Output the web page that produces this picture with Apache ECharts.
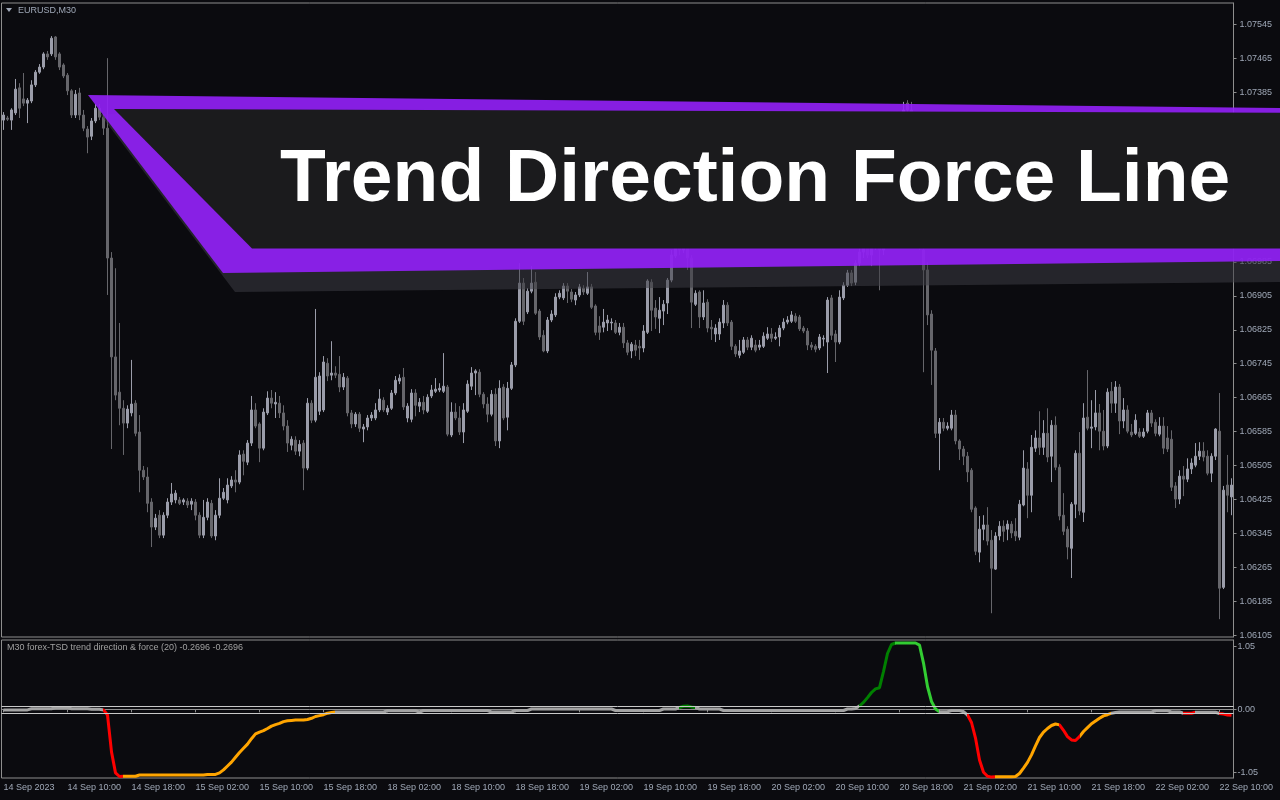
<!DOCTYPE html>
<html><head><meta charset="utf-8">
<script src="https://cdn.jsdelivr.net/npm/echarts@6/dist/echarts.min.js"></script>
<style>html,body{margin:0;padding:0;background:#0b0b0f;}#c{width:1280px;height:800px;}</style>
</head><body><div id="c"></div>
<script>
const tickLabels = ['14 Sep 2023','14 Sep 10:00','14 Sep 18:00','15 Sep 02:00','15 Sep 10:00','15 Sep 18:00','18 Sep 02:00','18 Sep 10:00','18 Sep 18:00','19 Sep 02:00','19 Sep 10:00','19 Sep 18:00','20 Sep 02:00','20 Sep 10:00','20 Sep 18:00','21 Sep 02:00','21 Sep 10:00','21 Sep 18:00','22 Sep 02:00','22 Sep 10:00'];
const priceTicks = [1.06105,1.06185,1.06265,1.06345,1.06425,1.06505,1.06585,1.06665,1.06745,1.06825,1.06905,1.06985,1.07065,1.07145,1.07225,1.07305,1.07385,1.07465,1.07545];
const tdfTicks = [-1.05, 0, 1.05];
const tdfLevels = [0.05, -0.065];

const opens = [
1.07319,1.07324,1.07319,1.07336,1.07395,1.07369,1.07359,1.07364,1.07402,1.07432,
1.07444,1.07475,1.07475,1.07515,1.07475,1.07449,1.07425,1.07388,1.07331,1.07383,
1.07331,1.07298,1.07281,1.07317,1.07347,1.07326,1.07300,1.06994,1.06761,1.06678,
1.06640,1.06605,1.06629,1.06652,1.06584,1.06494,1.06478,1.06419,1.06360,1.06388,
1.06341,1.06388,1.06419,1.06424,1.06424,1.06419,1.06421,1.06414,1.06419,1.06388,
1.06341,1.06383,1.06416,1.06339,1.06388,1.06428,1.06424,1.06457,1.06471,1.06466,
1.06532,1.06513,1.06558,1.06636,1.06603,1.06546,1.06629,1.06664,1.06650,1.06652,
1.06629,1.06598,1.06553,1.06565,1.06539,1.06558,1.06499,1.06652,1.06612,1.06633,
1.06636,1.06746,1.06718,1.06723,1.06720,1.06690,1.06711,1.06629,1.06603,1.06626,
1.06591,1.06596,1.06617,1.06617,1.06636,1.06659,1.06631,1.06640,1.06676,1.06704,
1.06713,1.06617,1.06614,1.06676,1.06645,1.06654,1.06633,1.06669,1.06680,1.06683,
1.06680,1.06690,1.06577,1.06631,1.06617,1.06584,1.06633,1.06692,1.06723,1.06725,
1.06673,1.06650,1.06626,1.06673,1.06563,1.06690,1.06619,1.06687,1.06742,1.06845,
1.06935,1.06867,1.06916,1.06937,1.06869,1.06812,1.06775,1.06848,1.06860,1.06902,
1.06900,1.06928,1.06914,1.06895,1.06907,1.06923,1.06911,1.06926,1.06881,1.06834,
1.06831,1.06841,1.06841,1.06841,1.06819,1.06831,1.06794,1.06775,1.06789,1.06786,
1.06782,1.06819,1.06937,1.06876,1.06852,1.06869,1.06888,1.06942,1.06999,1.07025,
1.07013,1.07027,1.06994,1.06885,1.06914,1.06855,1.06890,1.06831,1.06815,1.06815,
1.06841,1.06883,1.06843,1.06786,1.06765,1.06772,1.06801,1.06784,1.06789,1.06784,
1.06786,1.06805,1.06815,1.06805,1.06808,1.06829,1.06843,1.06845,1.06857,1.06855,
1.06829,1.06822,1.06789,1.06786,1.06782,1.06803,1.06796,1.06900,1.06815,1.06796,
1.06900,1.06930,1.06959,1.06937,1.06982,1.07008,1.07025,1.07001,1.07036,1.07048,
1.07013,1.07060,1.07131,1.07201,1.07248,1.07307,1.07359,1.07343,1.07248,1.07131,
1.07013,1.06966,1.06862,1.06775,1.06581,1.06607,1.06593,1.06593,1.06624,1.06563,
1.06544,1.06527,1.06494,1.06405,1.06301,1.06355,1.06365,1.06329,1.06261,1.06339,
1.06362,1.06355,1.06367,1.06350,1.06336,1.06412,1.06497,1.06435,1.06546,1.06570,
1.06548,1.06581,1.06527,1.06600,1.06501,1.06388,1.06355,1.06310,1.06414,1.06534,
1.06395,1.06619,1.06593,1.06596,1.06629,1.06586,1.06551,1.06680,1.06652,1.06690,
1.06610,1.06636,1.06584,1.06581,1.06584,1.06574,1.06586,1.06629,1.06607,1.06579,
1.06598,1.06570,1.06567,1.06457,1.06426,1.06480,1.06473,1.06497,1.06506,1.06527,
1.06539,1.06527,1.06487,1.06527,1.06586,1.06218,1.06459,1.06431
];
const closes = [
1.07331,1.07321,1.07343,1.07392,1.07347,1.07359,1.07366,1.07402,1.07432,1.07444,
1.07475,1.07468,1.07512,1.07468,1.07444,1.07423,1.07388,1.07331,1.07380,1.07331,
1.07300,1.07279,1.07317,1.07347,1.07326,1.07300,1.06994,1.06761,1.06671,1.06640,
1.06605,1.06638,1.06650,1.06581,1.06494,1.06478,1.06416,1.06360,1.06381,1.06341,
1.06388,1.06419,1.06438,1.06440,1.06416,1.06424,1.06412,1.06421,1.06388,1.06341,
1.06383,1.06419,1.06339,1.06388,1.06428,1.06442,1.06459,1.06471,1.06466,1.06530,
1.06515,1.06558,1.06636,1.06598,1.06546,1.06631,1.06664,1.06652,1.06654,1.06629,
1.06598,1.06558,1.06567,1.06539,1.06555,1.06499,1.06652,1.06612,1.06713,1.06716,
1.06749,1.06716,1.06723,1.06718,1.06690,1.06713,1.06629,1.06603,1.06626,1.06593,
1.06596,1.06617,1.06624,1.06636,1.06662,1.06636,1.06640,1.06676,1.06706,1.06711,
1.06643,1.06645,1.06676,1.06647,1.06654,1.06636,1.06666,1.06683,1.06685,1.06687,
1.06692,1.06579,1.06631,1.06617,1.06584,1.06636,1.06697,1.06723,1.06728,1.06673,
1.06650,1.06626,1.06673,1.06563,1.06687,1.06617,1.06687,1.06742,1.06845,1.06935,
1.06845,1.06916,1.06935,1.06864,1.06808,1.06775,1.06848,1.06862,1.06902,1.06911,
1.06928,1.06916,1.06897,1.06907,1.06926,1.06914,1.06926,1.06878,1.06819,1.06819,
1.06843,1.06848,1.06843,1.06819,1.06831,1.06794,1.06772,1.06791,1.06777,1.06782,
1.06822,1.06940,1.06871,1.06855,1.06871,1.06885,1.06942,1.07001,1.07025,1.07013,
1.07027,1.06994,1.06890,1.06911,1.06855,1.06888,1.06829,1.06827,1.06829,1.06843,
1.06883,1.06841,1.06786,1.06768,1.06775,1.06801,1.06784,1.06805,1.06777,1.06789,
1.06810,1.06815,1.06805,1.06808,1.06829,1.06843,1.06848,1.06860,1.06845,1.06827,
1.06822,1.06789,1.06784,1.06779,1.06808,1.06805,1.06895,1.06812,1.06796,1.06902,
1.06930,1.06959,1.06935,1.06982,1.07008,1.07025,1.07001,1.07036,1.07048,1.07013,
1.07060,1.07131,1.07201,1.07248,1.07307,1.07343,1.07343,1.07248,1.07131,1.07036,
1.06966,1.06860,1.06777,1.06581,1.06607,1.06593,1.06598,1.06624,1.06563,1.06544,
1.06527,1.06490,1.06402,1.06303,1.06355,1.06365,1.06327,1.06263,1.06339,1.06362,
1.06350,1.06367,1.06346,1.06339,1.06414,1.06499,1.06435,1.06548,1.06570,1.06548,
1.06581,1.06525,1.06600,1.06501,1.06386,1.06350,1.06313,1.06414,1.06534,1.06398,
1.06617,1.06593,1.06596,1.06629,1.06586,1.06551,1.06678,1.06652,1.06690,1.06610,
1.06636,1.06586,1.06577,1.06612,1.06574,1.06584,1.06629,1.06605,1.06581,1.06598,
1.06546,1.06544,1.06454,1.06426,1.06480,1.06473,1.06497,1.06511,1.06527,1.06539,
1.06525,1.06487,1.06527,1.06591,1.06216,1.06447,1.06435,1.06459
];
const lows = [
1.07296,1.07317,1.07296,1.07331,1.07324,1.07352,1.07312,1.07359,1.07397,1.07428,
1.07439,1.07461,1.07470,1.07461,1.07437,1.07418,1.07378,1.07324,1.07324,1.07319,
1.07293,1.07241,1.07272,1.07312,1.07319,1.07284,1.06907,1.06544,1.06659,1.06600,
1.06530,1.06593,1.06621,1.06574,1.06442,1.06471,1.06395,1.06313,1.06353,1.06334,
1.06334,1.06381,1.06412,1.06416,1.06412,1.06412,1.06405,1.06400,1.06376,1.06334,
1.06334,1.06376,1.06334,1.06329,1.06381,1.06424,1.06416,1.06452,1.06442,1.06461,
1.06482,1.06506,1.06551,1.06593,1.06513,1.06541,1.06624,1.06640,1.06617,1.06617,
1.06588,1.06537,1.06541,1.06530,1.06527,1.06447,1.06494,1.06605,1.06607,1.06624,
1.06631,1.06704,1.06706,1.06711,1.06678,1.06683,1.06621,1.06593,1.06596,1.06584,
1.06560,1.06588,1.06610,1.06612,1.06631,1.06631,1.06624,1.06636,1.06671,1.06697,
1.06636,1.06607,1.06607,1.06621,1.06631,1.06626,1.06629,1.06664,1.06676,1.06678,
1.06676,1.06574,1.06572,1.06612,1.06577,1.06558,1.06629,1.06683,1.06671,1.06666,
1.06640,1.06607,1.06621,1.06551,1.06546,1.06612,1.06588,1.06683,1.06737,1.06841,
1.06836,1.06862,1.06911,1.06860,1.06801,1.06772,1.06770,1.06843,1.06855,1.06897,
1.06895,1.06888,1.06890,1.06883,1.06902,1.06907,1.06907,1.06874,1.06812,1.06801,
1.06819,1.06822,1.06824,1.06815,1.06812,1.06782,1.06765,1.06758,1.06763,1.06754,
1.06772,1.06815,1.06822,1.06827,1.06817,1.06836,1.06862,1.06937,1.06994,1.07001,
1.07006,1.06966,1.06829,1.06881,1.06829,1.06848,1.06819,1.06801,1.06796,1.06801,
1.06829,1.06834,1.06777,1.06761,1.06758,1.06768,1.06777,1.06777,1.06772,1.06777,
1.06782,1.06801,1.06796,1.06801,1.06786,1.06824,1.06838,1.06841,1.06841,1.06822,
1.06817,1.06777,1.06777,1.06772,1.06777,1.06786,1.06723,1.06801,1.06749,1.06791,
1.06895,1.06926,1.06928,1.06930,1.06975,1.06994,1.06994,1.06975,1.07013,1.06918,
1.07001,1.07055,1.07119,1.07190,1.07237,1.07296,1.07331,1.07237,1.07107,1.07013,
1.06725,1.06836,1.06695,1.06570,1.06494,1.06586,1.06588,1.06588,1.06555,1.06518,
1.06506,1.06466,1.06395,1.06294,1.06277,1.06329,1.06317,1.06157,1.06259,1.06329,
1.06325,1.06329,1.06334,1.06327,1.06329,1.06409,1.06381,1.06395,1.06537,1.06530,
1.06530,1.06513,1.06466,1.06494,1.06376,1.06341,1.06284,1.06240,1.06381,1.06388,
1.06372,1.06588,1.06546,1.06588,1.06541,1.06541,1.06546,1.06629,1.06629,1.06579,
1.06593,1.06581,1.06572,1.06577,1.06570,1.06570,1.06581,1.06596,1.06574,1.06574,
1.06532,1.06537,1.06445,1.06405,1.06414,1.06433,1.06466,1.06485,1.06501,1.06518,
1.06515,1.06482,1.06466,1.06518,1.06143,1.06214,1.06395,1.06388
];
const highs = [
1.07338,1.07329,1.07347,1.07416,1.07406,1.07430,1.07371,1.07413,1.07437,1.07451,
1.07479,1.07482,1.07517,1.07517,1.07479,1.07453,1.07430,1.07392,1.07390,1.07395,
1.07343,1.07305,1.07324,1.07357,1.07357,1.07333,1.07465,1.07008,1.06970,1.06841,
1.06659,1.06647,1.06754,1.06659,1.06624,1.06504,1.06501,1.06428,1.06391,1.06400,
1.06395,1.06428,1.06464,1.06447,1.06431,1.06428,1.06428,1.06428,1.06426,1.06395,
1.06424,1.06428,1.06424,1.06400,1.06475,1.06452,1.06475,1.06480,1.06494,1.06541,
1.06541,1.06565,1.06669,1.06652,1.06607,1.06640,1.06680,1.06683,1.06678,1.06669,
1.06647,1.06612,1.06574,1.06574,1.06565,1.06565,1.06664,1.06659,1.06874,1.06725,
1.06763,1.06758,1.06798,1.06739,1.06763,1.06723,1.06716,1.06636,1.06631,1.06631,
1.06603,1.06624,1.06631,1.06652,1.06685,1.06666,1.06647,1.06683,1.06716,1.06720,
1.06735,1.06652,1.06685,1.06685,1.06664,1.06669,1.06673,1.06695,1.06711,1.06699,
1.06770,1.06695,1.06654,1.06652,1.06645,1.06652,1.06706,1.06737,1.06732,1.06732,
1.06678,1.06666,1.06683,1.06687,1.06706,1.06697,1.06702,1.06749,1.06852,1.06982,
1.06947,1.06923,1.06975,1.06961,1.06874,1.06824,1.06855,1.06871,1.06911,1.06918,
1.06935,1.06935,1.06921,1.06914,1.06933,1.06930,1.06961,1.06933,1.06885,1.06857,
1.06874,1.06860,1.06852,1.06848,1.06841,1.06841,1.06801,1.06796,1.06801,1.06801,
1.06836,1.06944,1.06944,1.06895,1.06902,1.06895,1.06947,1.07013,1.07036,1.07036,
1.07041,1.07036,1.07001,1.06918,1.06918,1.06918,1.06897,1.06848,1.06838,1.06852,
1.06895,1.06890,1.06848,1.06791,1.06801,1.06808,1.06808,1.06812,1.06801,1.06801,
1.06819,1.06831,1.06829,1.06819,1.06836,1.06852,1.06857,1.06869,1.06864,1.06860,
1.06834,1.06829,1.06796,1.06791,1.06815,1.06812,1.06902,1.06907,1.06824,1.06918,
1.06937,1.06966,1.06966,1.06989,1.07025,1.07036,1.07036,1.07048,1.07060,1.07055,
1.07072,1.07142,1.07213,1.07272,1.07319,1.07362,1.07366,1.07362,1.07260,1.07142,
1.07036,1.06984,1.06871,1.06782,1.06617,1.06617,1.06607,1.06636,1.06636,1.06567,
1.06551,1.06537,1.06499,1.06409,1.06386,1.06388,1.06407,1.06353,1.06348,1.06374,
1.06376,1.06376,1.06374,1.06381,1.06424,1.06541,1.06513,1.06577,1.06588,1.06633,
1.06612,1.06640,1.06612,1.06621,1.06508,1.06440,1.06362,1.06419,1.06541,1.06584,
1.06652,1.06730,1.06659,1.06683,1.06650,1.06636,1.06687,1.06702,1.06704,1.06697,
1.06664,1.06647,1.06603,1.06626,1.06593,1.06593,1.06636,1.06636,1.06614,1.06619,
1.06619,1.06598,1.06588,1.06466,1.06494,1.06504,1.06522,1.06522,1.06558,1.06560,
1.06560,1.06541,1.06534,1.06593,1.06676,1.06457,1.06530,1.06475
];
const tdfValues = [
-0.01,-0.01,-0.01,-0.01,-0.01,-0.01,-0.01,
0.01,0.01,0.01,0.01,0.01,0.01,
0.03,0.03,0.03,0.03,
0.01,0.01,0.01,0.01,0.01,
0,0,0,
-0.01,-0.095,-0.71,-1.06,-1.12,
-1.115,-1.115,-1.115,-1.115,
-1.095,-1.095,-1.095,-1.095,-1.095,-1.095,-1.095,-1.095,-1.095,-1.095,-1.095,-1.095,-1.095,-1.095,-1.095,-1.095,-1.095,
-1.085,-1.085,-1.085,
-1.06,-1.01,-0.945,-0.88,-0.80,-0.72,-0.65,-0.58,-0.49,-0.41,
-0.38,-0.355,-0.32,-0.28,-0.255,-0.235,-0.205,-0.19,-0.185,-0.18,
-0.18,-0.18,-0.17,-0.15,-0.12,-0.105,-0.09,-0.065,-0.055,
-0.045,-0.045,-0.045,-0.045,-0.045,-0.045,-0.045,-0.045,-0.045,-0.045,-0.045,-0.045,-0.045,
-0.025,-0.025,-0.025,-0.025,-0.025,-0.025,-0.025,-0.025,
-0.045,
-0.02,-0.02,-0.02,-0.02,-0.02,-0.02,-0.02,-0.02,-0.02,-0.02,-0.02,-0.02,-0.02,-0.02,-0.02,-0.02,-0.02,
-0.045,-0.045,-0.045,-0.045,-0.045,-0.045,
-0.02,-0.02,-0.02,-0.02,
0.005,0.005,0.005,0.005,0.005,0.005,0.005,0.005,0.005,0.005,0.005,0.005,0.005,0.005,0.005,0.005,0.005,0.005,0.005,0.005,0.005,
-0.02,-0.02,-0.02,-0.02,-0.02,-0.02,-0.02,-0.02,-0.02,-0.02,-0.02,-0.02,
0.005,0.005,0.005,0.005,
0.03,0.05,0.055,0.04,0.03,
0.005,0.005,0.005,0.005,0.005,0.005,
-0.02,-0.02,-0.02,-0.02,-0.02,-0.02,-0.02,-0.02,-0.02,-0.02,-0.02,-0.02,-0.02,-0.02,-0.02,-0.02,-0.02,-0.02,-0.02,-0.02,-0.02,-0.02,-0.02,-0.02,-0.02,-0.02,-0.02,-0.02,-0.02,-0.02,-0.02,
0.005,0.005,
0.015,0.055,0.115,0.195,0.28,0.34,0.36,0.63,0.93,1.08,
1.105,1.105,1.105,1.105,1.105,1.105,
1.07,0.77,0.38,0.13,0.005,
-0.04,-0.04,-0.04,
-0.02,-0.02,-0.02,
-0.04,-0.095,-0.22,-0.48,-0.845,-1.05,-1.115,-1.13,
-1.125,-1.125,-1.125,-1.125,-1.125,
-1.12,-1.07,-0.98,-0.885,-0.76,-0.61,-0.47,-0.38,-0.32,-0.27,
-0.245,-0.26,-0.35,-0.455,-0.51,-0.52,-0.455,-0.37,-0.305,-0.24,
-0.195,-0.15,-0.11,-0.09,-0.065,-0.055,
-0.045,-0.045,-0.045,-0.045,-0.045,-0.045,-0.045,-0.045,-0.045,
-0.025,-0.025,-0.025,-0.025,
-0.045,-0.045,-0.045,
-0.065,-0.065,-0.065,
-0.05,-0.05,-0.05,-0.05,-0.05,-0.05,
-0.07,-0.08,-0.095,-0.1
];
// colour state of the indicator: break points between bars and the colour of each section
const segBreaks = [24.5,29.5,82.5,168.5,172.5,213.5,222.5,233.5,240.5,247.5,263.5,268.5,276.5,294.5,297.5,303.5];
const segColors = ['#a3a3a3','#ff0000','#ffa500','#a3a3a3','#008000','#a3a3a3','#008000','#32cd32','#a3a3a3','#ff0000','#ffa500','#ff0000','#ffa500','#a3a3a3','#ff0000','#a3a3a3','#ff0000'];

const FONT = '"Liberation Sans", Arial, sans-serif';
const LBL = '#9fa8b7';
const FRAME = '#8e8e8e';

const categories = opens.map((_, i) => String(i));
const candleData = opens.map((o, i) => [o, closes[i], lows[i], highs[i]]);
const pieces = segColors.map((c, i) => {
  const p = { color: c };
  if (i > 0) p.gte = segBreaks[i - 1];
  if (i < segBreaks.length) p.lt = segBreaks[i];
  return p;
});

const chart = echarts.init(document.getElementById('c'));
chart.setOption({
  animation: false,
  backgroundColor: '#0b0b0f',
  grid: [
    { left: 1.5, right: 46.5, top: 3, height: 634, show: true, borderColor: FRAME, borderWidth: 1, backgroundColor: 'transparent' },
    { left: 1.5, right: 46.5, top: 640, height: 138, show: true, borderColor: FRAME, borderWidth: 1, backgroundColor: 'transparent' }
  ],
  xAxis: [
    { gridIndex: 0, type: 'category', data: categories, boundaryGap: true,
      axisLine: { show: false }, axisTick: { show: false }, axisLabel: { show: false }, splitLine: { show: false } },
    { gridIndex: 1, type: 'category', data: categories, boundaryGap: true,
      axisLine: { show: true, lineStyle: { color: FRAME } },
      axisTick: { show: true, alignWithLabel: true, interval: 15, length: 3, lineStyle: { color: FRAME } },
      axisLabel: { show: true, interval: 15, align: 'left', margin: 5, color: LBL, fontSize: 9, fontFamily: FONT,
        formatter: (v, i) => tickLabels[Math.round(i / 16)] || '' },
      splitLine: { show: false } }
  ],
  yAxis: [
    { gridIndex: 0, type: 'value', position: 'right', min: 1.06101, max: 1.07595,
      axisLine: { show: true, lineStyle: { color: FRAME } },
      axisTick: { show: true, length: 3, customValues: priceTicks, lineStyle: { color: FRAME } },
      axisLabel: { show: true, customValues: priceTicks, margin: 6, color: LBL, fontSize: 9, fontFamily: FONT,
        formatter: v => v.toFixed(5) },
      splitLine: { show: false } },
    { gridIndex: 1, type: 'value', position: 'right', min: -1.145, max: 1.155,
      axisLine: { show: true, lineStyle: { color: FRAME } },
      axisTick: { show: true, length: 3, customValues: tdfTicks, lineStyle: { color: FRAME } },
      axisLabel: { show: true, customValues: tdfTicks, margin: 4, color: LBL, fontSize: 9, fontFamily: FONT,
        formatter: v => v.toFixed(2) },
      splitLine: { show: false } }
  ],
  visualMap: [{ type: 'piecewise', show: false, dimension: 0, seriesIndex: 1, pieces: pieces }],
  series: [
    { type: 'candlestick', xAxisIndex: 0, yAxisIndex: 0, data: candleData, barWidth: 2,
      itemStyle: { color: '#9b9daa', color0: '#66666b', borderColor: '#9b9daa', borderColor0: '#66666b', borderWidth: 1 } },
    { type: 'line', xAxisIndex: 1, yAxisIndex: 1, data: tdfValues, showSymbol: false, symbol: 'none',
      lineStyle: { width: 3 }, z: 3,
      markLine: { silent: true, symbol: 'none', label: { show: false },
        lineStyle: { color: '#c8c8c8', width: 1, type: 'solid' },
        data: tdfLevels.map(v => ({ yAxis: v })) } }
  ],
  graphic: [
    { type: 'polygon', z: 50, shape: { points: [[6,8],[12,8],[9,12]] }, style: { fill: '#a0a8b8' } },
    { type: 'text', z: 50, x: 18, y: 11, style: { text: 'EURUSD,M30', fill: LBL, fontSize: 9, fontFamily: FONT,
        textVerticalAlign: 'middle', verticalAlign: 'middle' } },
    { type: 'text', z: 50, x: 7, y: 648, style: { text: 'M30 forex-TSD trend direction & force (20) -0.2696 -0.2696',
        fill: '#a0a0a0', fontSize: 9, fontFamily: FONT, textVerticalAlign: 'middle', verticalAlign: 'middle' } },
    { type: 'polygon', z: 100, shape: { points: [[100,114],[1280,127],[1280,282],[235,292]] },
      style: { fill: 'rgba(61,61,68,0.55)' } },
    { type: 'polygon', z: 101, shape: { points: [[88,95],[1280,108],[1280,261],[223,273]] },
      style: { fill: 'rgba(148,32,249,0.9)' } },
    { type: 'polygon', z: 102, shape: { points: [[114,109],[1280,112.8],[1280,248.5],[252,248.5]] },
      style: { fill: '#1b1b1d' } },
    { type: 'text', z: 103, x: 280, y: 180, style: { text: 'Trend Direction Force Line', fill: '#ffffff',
        fontSize: 75, fontWeight: 'bold', fontFamily: FONT,
        textAlign: 'left', align: 'left', textVerticalAlign: 'middle', verticalAlign: 'middle' } }
  ]
});
</script>
</body></html>
